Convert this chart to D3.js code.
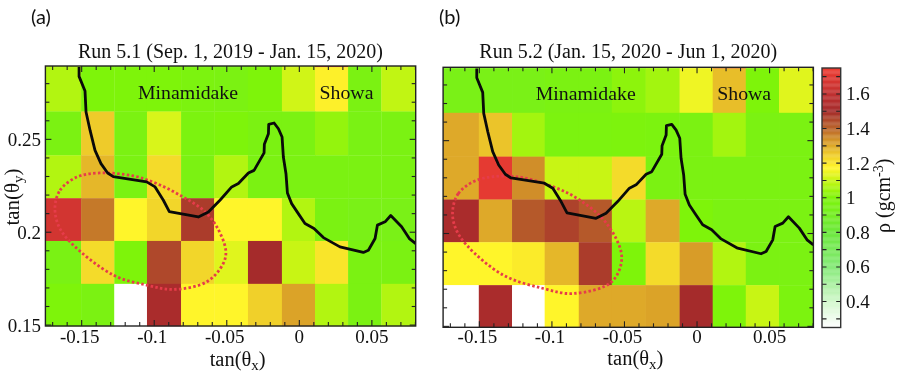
<!DOCTYPE html>
<html>
<head>
<meta charset="utf-8">
<script src="https://cdn.jsdelivr.net/npm/d3@7"></script>
<style>
  html, body { margin: 0; padding: 0; background: #fff; }
  svg { display: block; filter: blur(0.4px); }
  text { font-family: "Liberation Serif", serif; fill: #111; }
  .tag { font-family: Lato, sans-serif; font-size: 20px; }
</style>
</head>
<body>
<svg id="chart" width="902" height="375"></svg>
<script>
  const width = 902, height = 375;

  // cell edges of the density map
  const xEdges = [-0.175, -0.1504, -0.1275, -0.105, -0.0815, -0.0587, -0.0354, -0.012, 0.0108, 0.0336, 0.0565, 0.0802];
  const yEdges = [0.2895, 0.2889, 0.265, 0.2414, 0.2183, 0.1953, 0.1722, 0.1495];

  const xTickLabels = [-0.15, -0.1, -0.05, 0, 0.05];
  const yTickLabels = [0.15, 0.2, 0.25];
  const cbTickLabels = [0.4, 0.6, 0.8, 1, 1.2, 1.4, 1.6];

  // density per cell, rows top to bottom, null = no data. first row is the thin sliver at the frame
  const gridA = [
    [1.07, 1.0, 1.0, 1.0, 0.98, 0.97, 1.0, 1.11, 1.65, 0.97, 1.09],
    [1.07, 1.0, 1.0, 1.0, 0.98, 0.97, 1.0, 1.11, 1.18, 0.97, 1.09],
    [0.97, 1.25, 0.97, 1.12, 0.98, 1.0, 0.97, 0.97, 1.03, 0.96, 0.97],
    [1.07, 1.28, 0.97, 1.22, 0.97, 1.07, 0.97, 0.97, 0.97, 0.97, 0.97],
    [1.66, 1.37, 1.17, 1.23, 1.47, 1.17, 1.17, 1.07, 0.97, 0.95, 0.95],
    [0.96, 1.22, 1.0, 1.45, 1.23, 1.13, 1.5, 1.1, 1.2, 0.97, 0.97],
    [1.0, 0.97, null, 1.52, 1.17, 1.17, 1.24, 1.31, 1.07, 0.97, 1.07]
  ];
  const gridB = [
    [0.95, 0.95, 0.95, 0.97, 0.97, 1.02, 1.05, 1.15, 1.65, 1.0, 1.13],
    [0.95, 0.95, 0.95, 0.97, 0.97, 1.02, 1.05, 1.15, 1.27, 1.0, 1.13],
    [1.3, 1.26, 1.05, 0.98, 0.98, 0.99, 0.98, 0.97, 1.05, 0.97, 0.97],
    [1.3, 1.72, 1.34, 1.1, 1.1, 1.22, 0.97, 0.97, 0.97, 0.97, 0.97],
    [1.52, 1.3, 1.42, 1.46, 1.42, 1.08, 1.3, 1.0, 0.97, 0.97, 0.97],
    [1.17, 1.17, 1.19, 1.28, 1.47, 1.0, 1.22, 1.32, 1.07, 0.97, 0.97],
    [null, 1.52, null, 1.17, 1.3, 1.3, 1.31, 1.5, 1.0, 1.1, 0.98]
  ];

  // volcano profile, [tan x, tan y]
  const ridge = [
    [-0.1518, 0.2889], [-0.1518, 0.2839], [-0.1477, 0.276], [-0.147, 0.2647], [-0.1442, 0.2548],
    [-0.1408, 0.2441], [-0.1367, 0.2369], [-0.1321, 0.2319], [-0.1282, 0.2299], [-0.1052, 0.2271],
    [-0.0994, 0.2244], [-0.0937, 0.2172], [-0.0896, 0.2111], [-0.0696, 0.2082], [-0.0627, 0.2109],
    [-0.0547, 0.2172], [-0.0466, 0.2244], [-0.042, 0.2262], [-0.0351, 0.2319], [-0.0312, 0.2333],
    [-0.0243, 0.2427], [-0.0241, 0.2473], [-0.0213, 0.253], [-0.0211, 0.2581], [-0.0174, 0.2588],
    [-0.0144, 0.2557], [-0.0119, 0.2513], [-0.011, 0.2405], [-0.0092, 0.2315], [-0.0082, 0.2211],
    [-0.0053, 0.2154], [-0.0007, 0.21], [0.0039, 0.2047], [0.0101, 0.202], [0.0166, 0.1971],
    [0.028, 0.1921], [0.0441, 0.1891], [0.0476, 0.1903], [0.0522, 0.1966], [0.0538, 0.2038],
    [0.0591, 0.2056], [0.063, 0.209], [0.0705, 0.2029], [0.0758, 0.1966], [0.0802, 0.1939]
  ];

  // dotted red outlines
  const loopA = [
    [-0.1684, 0.2136], [-0.1649, 0.2226], [-0.1534, 0.2297], [-0.1374, 0.2319], [-0.1144, 0.2303],
    [-0.0983, 0.2262], [-0.0822, 0.2199], [-0.0661, 0.2118], [-0.0569, 0.2029], [-0.0507, 0.1903],
    [-0.0524, 0.1832], [-0.0638, 0.1733], [-0.0868, 0.1692], [-0.1052, 0.1715], [-0.1282, 0.1769],
    [-0.158, 0.1948], [-0.1661, 0.2038]
  ];
  const loopB = [
    [-0.1684, 0.2125], [-0.1645, 0.2215], [-0.1518, 0.2287], [-0.1266, 0.2308], [-0.099, 0.2251],
    [-0.0806, 0.2179], [-0.0623, 0.2054], [-0.0519, 0.1875], [-0.0588, 0.174], [-0.0852, 0.1677],
    [-0.1059, 0.1704], [-0.1335, 0.1776], [-0.1587, 0.1937], [-0.1668, 0.2036]
  ];

  const cbStops = [0.25, 0.4, 0.6, 0.8, 1.0, 1.1, 1.17, 1.25, 1.32, 1.4, 1.5, 1.6, 1.75];
  const cbColors = ["#ffffff", "#d2f7cc", "#86ea78", "#6ce83c", "#7ef40a", "#c8f514", "#fff52a", "#eecb2a",
    "#d89c28", "#b9642a", "#a52b2b", "#c03030", "#ee3c32"];

  const svg = d3.select("#chart");

  const xScale = d3.scaleLinear().domain([-0.175, 0.0802]).range([45.4, 415.7]);
  const yScale = d3.scaleLinear().domain([0.1495, 0.2895]).range([326, 66]);
  const colorScale = d3.scaleLinear().domain(cbStops).range(cbColors);
  const cbScale = d3.scaleLinear().domain([0.25, 1.75]).range([327.5, 68]);

  const minorX = d3.range(-17, 9).map(d => d / 100);
  const minorY = d3.range(15, 29).map(d => d / 100);
  const isMajor = d => Math.abs(Math.round(d * 100) % 5) === 0;

  function inwardTicks(axis, values, fn) {
    // ROOT style ticks: long on the 0.05s, short between
    axis.selectAll("line.t")
      .data(values)
      .enter().append("line")
      .attr("class", "t")
      .attr("stroke", "#222")
      .attr("stroke-width", 1.1)
      .each(function(d) { fn(d3.select(this), d, isMajor(d) ? 6 : 4); });
  }

  function drawPanel(name, grid, loop, title, titleX, opts) {
    const g = svg.append("g").attr("transform", `translate(${opts.dx},${opts.dy})`);

    g.append("clipPath").attr("id", "clip-" + name)
      .append("rect")
      .attr("x", xScale.range()[0])
      .attr("y", yScale.range()[1])
      .attr("width", xScale.range()[1] - xScale.range()[0])
      .attr("height", yScale.range()[0] - yScale.range()[1]);

    // cells
    grid.forEach((row, r) => {
      g.append("g").selectAll("rect")
        .data(row)
        .enter().append("rect")
        .attr("x", (d, c) => xScale(xEdges[c]))
        .attr("y", yScale(yEdges[r]))
        .attr("width", (d, c) => xScale(xEdges[c + 1]) - xScale(xEdges[c]) + 0.3)
        .attr("height", yScale(yEdges[r + 1]) - yScale(yEdges[r]) + 0.3)
        .attr("fill", d => d === null ? "#ffffff" : colorScale(d));
    });

    const ticks = g.append("g");
    inwardTicks(ticks.append("g"), minorX, (l, d, n) => l
      .attr("x1", xScale(d)).attr("x2", xScale(d)).attr("y1", yScale.range()[0]).attr("y2", yScale.range()[0] - n));
    inwardTicks(ticks.append("g"), minorX, (l, d, n) => l
      .attr("x1", xScale(d)).attr("x2", xScale(d)).attr("y1", yScale.range()[1]).attr("y2", yScale.range()[1] + n));
    inwardTicks(ticks.append("g"), minorY, (l, d, n) => l
      .attr("y1", yScale(d)).attr("y2", yScale(d)).attr("x1", xScale.range()[0]).attr("x2", xScale.range()[0] + n));
    inwardTicks(ticks.append("g"), minorY, (l, d, n) => l
      .attr("y1", yScale(d)).attr("y2", yScale(d)).attr("x1", xScale.range()[1]).attr("x2", xScale.range()[1] - n));

    const lineGen = d3.line().x(d => xScale(d[0])).y(d => yScale(d[1]));

    g.append("path")
      .datum(loop)
      .attr("fill", "none")
      .attr("stroke", "#e63c4a")
      .attr("stroke-width", 2.8)
      .attr("stroke-dasharray", "2.5 2.3")
      .attr("d", lineGen.curve(d3.curveCatmullRomClosed));

    g.append("path")
      .datum(ridge)
      .attr("clip-path", `url(#clip-${name})`)
      .attr("fill", "none")
      .attr("stroke", "#0a0a0a")
      .attr("stroke-width", 2.8)
      .attr("stroke-linejoin", "round")
      .attr("d", lineGen.curve(d3.curveLinear));

    // frame
    g.append("rect")
      .attr("x", xScale.range()[0])
      .attr("y", yScale.range()[1])
      .attr("width", xScale.range()[1] - xScale.range()[0])
      .attr("height", yScale.range()[0] - yScale.range()[1])
      .attr("fill", "none")
      .attr("stroke", "#222")
      .attr("stroke-width", 1.4);

    // x tick labels
    g.append("g").selectAll("text")
      .data(xTickLabels)
      .enter().append("text")
      .attr("x", d => xScale(d) - (d < 0 ? 2 : 0))
      .attr("y", 343 - opts.dy)
      .attr("text-anchor", "middle")
      .attr("font-size", 19)
      .text(d => String(d));

    g.append("text")
      .attr("x", xScale(-0.0425))
      .attr("y", 365.5 - opts.dy)
      .attr("text-anchor", "middle")
      .attr("font-size", 20.5)
      .html('tan(θ<tspan font-size="15" dy="4">x</tspan><tspan dy="-4">)</tspan>');

    g.append("text")
      .attr("x", titleX)
      .attr("y", 58 - opts.dy)
      .attr("text-anchor", "middle")
      .attr("font-size", 20)
      .text(title);

    g.append("text").attr("x", 188).attr("y", 99).attr("text-anchor", "middle").attr("font-size", 19.8).text("Minamidake");
    g.append("text").attr("x", 346.5).attr("y", 99).attr("text-anchor", "middle").attr("font-size", 19.8).text("Showa");
  }

  drawPanel("a", gridA, loopA, "Run 5.1 (Sep. 1, 2019 - Jan. 15, 2020)", 230.5, { dx: 0, dy: 0 });
  drawPanel("b", gridB, loopB, "Run 5.2 (Jan. 15, 2020 - Jun 1, 2020)", 230.5, { dx: 397.7, dy: 1.3 });

  // y axis labels, only on the left panel
  svg.append("g").selectAll("text")
    .data(yTickLabels)
    .enter().append("text")
    .attr("x", 41)
    .attr("y", d => yScale(d) + 6.5)
    .attr("text-anchor", "end")
    .attr("font-size", 19)
    .text(d => String(d));

  svg.append("text")
    .attr("transform", "translate(19,197) rotate(-90)")
    .attr("text-anchor", "middle")
    .attr("font-size", 21)
    .html('tan(θ<tspan font-size="15" dy="4">y</tspan><tspan dy="-4">)</tspan>');

  svg.append("text").attr("class", "tag").attr("x", 31).attr("y", 24).text("(a)");
  svg.append("text").attr("class", "tag").attr("x", 439).attr("y", 24).text("(b)");

  // colour bar
  const cb = svg.append("g");
  const cbX = 822, cbW = 18.7;
  const cbValues = d3.range(250, 1750, 5).map(d => d / 1000);

  cb.selectAll("rect.s")
    .data(cbValues)
    .enter().append("rect")
    .attr("class", "s")
    .attr("x", cbX)
    .attr("width", cbW)
    .attr("y", d => cbScale(d + 0.005))
    .attr("height", cbScale(0.25) - cbScale(0.255) + 0.3)
    .attr("fill", d => colorScale(d));

  const cbTicks = d3.range(3, 18).map(d => d / 10);
  cb.selectAll("path.t")
    .data(cbTicks)
    .enter().append("path")
    .attr("class", "t")
    .attr("fill", "none")
    .attr("stroke", "#222")
    .attr("stroke-width", 1.1)
    .attr("d", d => `M${cbX},${cbScale(d)}h4.5M${cbX + cbW},${cbScale(d)}h-4.5`);

  cb.append("rect")
    .attr("x", cbX).attr("y", cbScale(1.75))
    .attr("width", cbW).attr("height", cbScale(0.25) - cbScale(1.75))
    .attr("fill", "none").attr("stroke", "#333").attr("stroke-width", 1.4);

  cb.selectAll("text.l")
    .data(cbTickLabels)
    .enter().append("text")
    .attr("class", "l")
    .attr("x", 846)
    .attr("y", d => cbScale(d) + 6.5)
    .attr("font-size", 19)
    .text(d => String(d));

  svg.append("text")
    .attr("transform", "translate(890,233) rotate(-90)")
    .attr("font-size", 20)
    .html('ρ (gcm<tspan font-size="14" dy="-7">-3</tspan><tspan dy="7">)</tspan>');
</script>
</body>
</html>
